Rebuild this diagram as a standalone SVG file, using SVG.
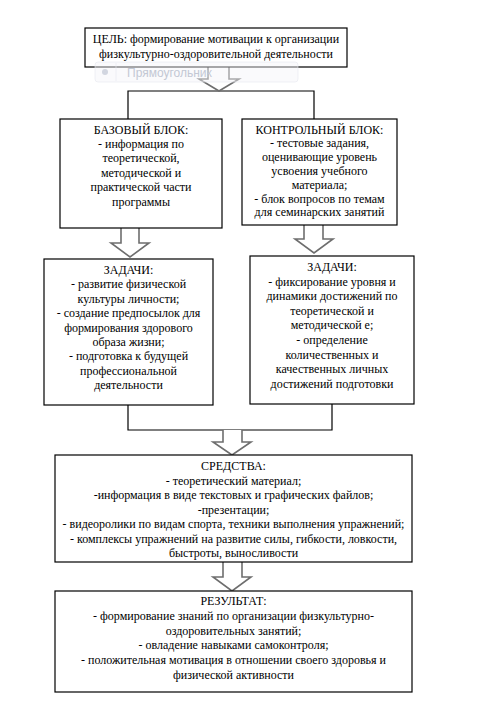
<svg xmlns="http://www.w3.org/2000/svg" width="489" height="706" viewBox="0 0 489 706">
<style>
.box{fill:#fff;stroke:#000;stroke-width:1.2}
.t{font-family:"Liberation Serif","Times New Roman",serif;font-size:12px;fill:#000;text-anchor:middle}
.ln{fill:none;stroke:#000;stroke-width:1.2}
.ar{fill:#fff;stroke:#6e6e6e;stroke-width:1.6;stroke-linejoin:miter}
</style>
<rect width="489" height="706" fill="#fff"/>
<g id="connectors">
<polyline class="ln" points="128,119 128,91 314,91 314,119"/>
<polyline class="ln" points="128,405 128,430 332,430 332,404"/>
<path class="ar" d="M208,67 L208,79 L199,79 L219,91 L239,79 L229,79 L229,67"/>
<path class="ar" d="M121,228 L121,243 L111,243 L130,257 L149,243 L139,243 L139,228"/>
<path class="ar" d="M304,225 L304,239 L295,239 L314,253 L333,239 L323,239 L323,225"/>
<path class="ar" d="M223,430 L223,442 L213,442 L232,455 L251,442 L242,442 L242,430"/>
<path class="ar" d="M223,562 L223,577 L213,577 L232,591 L251,577 L242,577 L242,562"/>
</g>
<g id="goal">
<rect class="box" x="85" y="28" width="262" height="39"/>
<text class="t" x="216" y="43">ЦЕЛЬ: формирование мотивации к организации</text>
<text class="t" x="216" y="58">физкультурно-оздоровительной деятельности</text>
</g>
<g id="ghost">
<rect x="95" y="62" width="203" height="20" rx="3" fill="#f4f5f9" fill-opacity="0.45" stroke="#e6e8ef" stroke-opacity="0.6"/>
<line x1="116" y1="63" x2="116" y2="81" stroke="#e6e8ef" stroke-opacity="0.6"/>
<circle cx="105" cy="72" r="3" fill="#d2d6e0"/>
<text x="127" y="77" style="font-family:'Liberation Sans',Arial,sans-serif;font-size:12px;fill:#c3c8d4">Прямоугольник</text>
</g>
<g id="base">
<rect class="box" x="60" y="119" width="162" height="109"/>
<text class="t" x="141" y="134">БАЗОВЫЙ БЛОК:</text>
<text class="t" x="141" y="148">- информация по</text>
<text class="t" x="141" y="162">теоретической,</text>
<text class="t" x="141" y="177">методической и</text>
<text class="t" x="141" y="191">практической части</text>
<text class="t" x="141" y="206">программы</text>
</g>
<g id="control">
<rect class="box" x="242" y="119" width="155" height="106"/>
<text class="t" x="319.5" y="134">КОНТРОЛЬНЫЙ БЛОК:</text>
<text class="t" x="319.5" y="147">- тестовые задания,</text>
<text class="t" x="319.5" y="161">оценивающие уровень</text>
<text class="t" x="319.5" y="175">усвоения учебного</text>
<text class="t" x="319.5" y="189">материала;</text>
<text class="t" x="319.5" y="203">- блок вопросов по темам</text>
<text class="t" x="319.5" y="216">для семинарских занятий</text>
</g>
<g id="tasks-left">
<rect class="box" x="44" y="259" width="169" height="146"/>
<text class="t" x="128.5" y="274">ЗАДАЧИ:</text>
<text class="t" x="128.5" y="288.4">- развитие физической</text>
<text class="t" x="128.5" y="302.8">культуры личности;</text>
<text class="t" x="128.5" y="317.2">- создание предпосылок для</text>
<text class="t" x="128.5" y="331.6">формирования здорового</text>
<text class="t" x="128.5" y="346">образа жизни;</text>
<text class="t" x="128.5" y="360.4">- подготовка к будущей</text>
<text class="t" x="128.5" y="374.8">профессиональной</text>
<text class="t" x="128.5" y="389.2">деятельности</text>
</g>
<g id="tasks-right">
<rect class="box" x="250" y="256" width="164" height="148"/>
<text class="t" x="332" y="271">ЗАДАЧИ:</text>
<text class="t" x="332" y="285.6">- фиксирование уровня и</text>
<text class="t" x="332" y="300.2">динамики достижений по</text>
<text class="t" x="332" y="314.8">теоретической и</text>
<text class="t" x="332" y="329.4">методической е;</text>
<text class="t" x="332" y="344">- определение</text>
<text class="t" x="332" y="358.6">количественных и</text>
<text class="t" x="332" y="373.2">качественных личных</text>
<text class="t" x="332" y="387.8">достижений подготовки</text>
</g>
<g id="means">
<rect class="box" x="55" y="455" width="357" height="107"/>
<text class="t" x="233.5" y="470">СРЕДСТВА:</text>
<text class="t" x="233.5" y="484.5">- теоретический материал;</text>
<text class="t" x="233.5" y="499">-информация в виде текстовых и графических файлов;</text>
<text class="t" x="233.5" y="513.5">-презентации;</text>
<text class="t" x="233.5" y="528">- видеоролики по видам спорта, техники выполнения упражнений;</text>
<text class="t" x="233.5" y="542.5">- комплексы упражнений на развитие силы, гибкости, ловкости,</text>
<text class="t" x="233.5" y="557">быстроты, выносливости</text>
</g>
<g id="result">
<rect class="box" x="55" y="591" width="357" height="101"/>
<text class="t" x="233.5" y="605">РЕЗУЛЬТАТ:</text>
<text class="t" x="233.5" y="620">- формирование знаний по организации физкультурно-</text>
<text class="t" x="233.5" y="634.5">оздоровительных занятий;</text>
<text class="t" x="233.5" y="649">- овладение навыками самоконтроля;</text>
<text class="t" x="233.5" y="664">- положительная мотивация в отношении своего здоровья и</text>
<text class="t" x="233.5" y="679">физической активности</text>
</g>
</svg>
